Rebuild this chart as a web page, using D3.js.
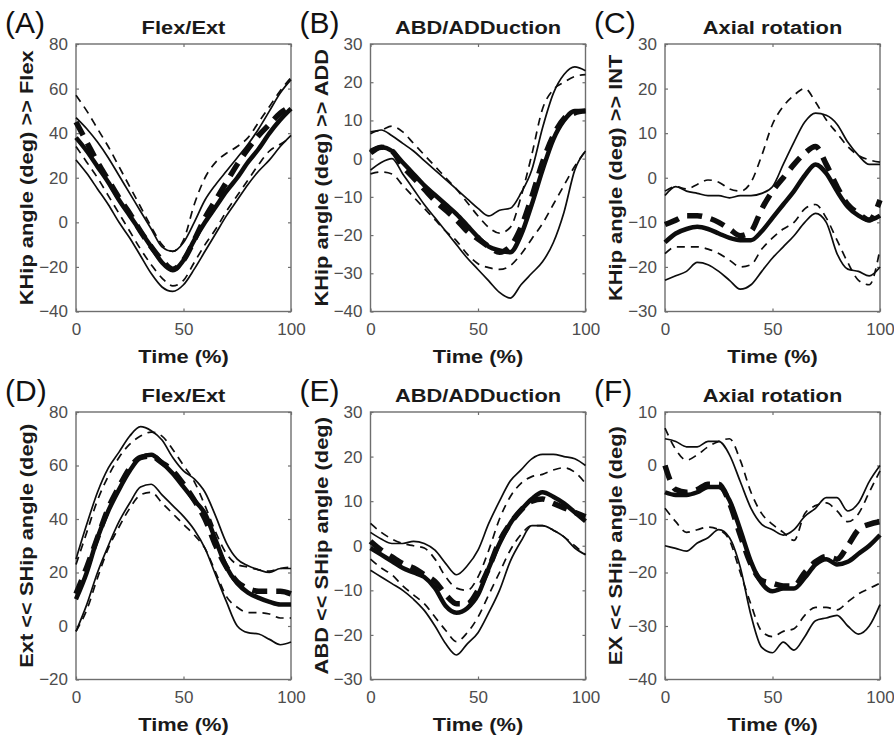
<!DOCTYPE html>
<html>
<head>
<meta charset="utf-8">
<script src="https://cdn.jsdelivr.net/npm/d3@7"></script>
<style>
  body { margin: 0; background: #fff; }
  svg { display: block; }
  text { font-family: "Liberation Sans", Arial, sans-serif; }
</style>
</head>
<body>
<div id="chart"></div>
<script>
// Time axis (% of cycle), sampled every 5 %
const time = [0, 5, 10, 15, 20, 25, 30, 35, 40, 45, 50, 55, 60, 65, 70, 75, 80, 85, 90, 95, 100];
const xTicks = [0, 50, 100];

// (A) KHip Flex/Ext
const aSolidMean  = [38, 32, 25, 18, 10, 3, -4, -11, -18, -21.5, -17, -8, 0, 7, 14, 20, 27, 33, 40, 46, 51];
const aSolidUpper = [47, 42, 36, 29, 21, 13, 5, -3, -11, -13, -9, 0, 10, 17, 23, 29, 35, 42, 50, 58, 64];
const aSolidLower = [28, 22, 15, 8, 0, -7, -15, -23, -29, -31, -28, -21, -13, -5, 3, 10, 17, 23, 28, 34, 39];
const aDashMean   = [45, 36, 27, 19, 11, 4, -4, -11, -17, -21, -17, -8, 2, 10, 18, 26, 33, 39, 44, 49, 52];
const aDashUpper  = [57, 50, 42, 34, 25, 16, 7, -2, -10, -13, -8, 8, 20, 27, 31, 34, 38, 45, 52, 59, 65];
const aDashLower  = [34, 27, 20, 12, 4, -4, -12, -19, -25, -28.5, -26, -18, -10, -3, 5, 12, 19, 26, 32, 35, 38];
const aYTicks = [-40, -20, 0, 20, 40, 60, 80];

// (B) KHip ABD/ADDuction
const bSolidMean  = [2, 3, 2, -1, -4, -7, -9.5, -12, -14.5, -17.5, -20.5, -23, -24, -24.5, -20, -12, -3, 5, 10, 12.5, 12.5];
const bSolidUpper = [6.5, 7.5, 6, 4, 2, -0.5, -3, -5.5, -8, -10.5, -13, -15, -13.5, -13, -9, -3, 8, 17, 22, 24, 23];
const bSolidLower = [-3, -1, 0, -4, -8, -12, -15.5, -19, -22.5, -26, -29, -32, -35, -36.5, -33, -30, -27, -22, -14, -3, 2];
const bDashMean   = [1.5, 3, 2, -2, -5, -8, -11, -13.5, -16, -19, -21, -23, -24.5, -23, -18, -10, -1, 6, 10.5, 12, 12.5];
const bDashUpper  = [7, 7.5, 8.5, 7, 4, 1, -2, -5, -8, -11.5, -15, -18, -19.5, -18, -10, 1, 13, 18, 20, 21.5, 22];
const bDashLower  = [-4, -3.5, -4, -7, -10, -13, -16, -19, -21.5, -25, -27.5, -28.5, -29, -28, -25, -21, -17, -12, -7, -2, 2];
const bYTicks = [-40, -30, -20, -10, 0, 10, 20, 30];

// (C) KHip Axial rotation
const cSolidMean  = [-14.5, -12.5, -11.5, -11, -11.5, -12.5, -13.5, -14, -14, -12, -9, -6, -3, 0.5, 3, 1, -3, -6.5, -8.5, -9.5, -8.5];
const cSolidUpper = [-4, -2, -3, -3.5, -4, -4, -4.5, -4, -4, -3.5, -2, 3, 8, 12.5, 14.5, 14, 12, 8, 5, 3, 3];
const cSolidLower = [-23, -22, -21, -19, -19.5, -21, -23, -25, -24, -21, -18, -15.5, -13, -10, -8, -10, -17, -20.5, -21, -22, -20];
const cDashMean   = [-10.5, -9.5, -8.5, -8.5, -9, -10, -11.5, -13, -12, -7, -3, 0, 3, 5.5, 7, 3, -2, -6, -8, -9.5, -5];
const cDashUpper  = [-3, -2, -2.5, -1.5, -0.5, -1, -2.5, -3, -1, 5, 12, 16, 18.5, 20, 17, 13, 10, 7, 5, 4, 3.5];
const cDashLower  = [-17, -15.5, -15.5, -15.5, -16, -17, -18.5, -20, -19.5, -16, -13.5, -11.5, -10, -7, -6, -9, -14, -19, -23, -24, -16];
const cYTicks = [-30, -20, -10, 0, 10, 20, 30];

// (D) SHip Flex/Ext
const dSolidMean  = [10, 20, 33, 43, 51, 58, 63, 64, 61, 57, 52, 47, 42, 32, 22, 16, 12.5, 10.5, 9, 8, 8];
const dSolidUpper = [25, 38, 50, 59, 65, 71, 74.5, 73, 69.5, 63, 58, 55, 50, 41, 31, 25, 22.5, 21, 20, 21.5, 21.5];
const dSolidLower = [-2, 8, 20, 30, 39, 46, 52, 53, 49, 45, 41, 36, 29, 19, 9, 0, -2.5, -3, -5, -7, -6];
const dDashMean   = [12, 22, 33, 44, 52, 59, 63, 63.5, 61, 58, 53, 47, 40, 30, 22, 16.5, 14, 13, 13, 13, 12];
const dDashUpper  = [23, 35, 47, 56, 63, 68, 71, 72.5, 71, 66, 60, 54, 45, 35, 27, 23, 22, 21, 20.5, 21.5, 22];
const dDashLower  = [-2, 6, 18, 29, 37, 44, 49, 50, 46, 42, 38, 34, 29, 20, 11, 7, 5, 5, 4.5, 3, 3];
const dYTicks = [-20, 0, 20, 40, 60, 80];

// (E) SHip ABD/ADDuction
const eSolidMean  = [-0.5, -2, -3.5, -5, -6, -7, -9.5, -13.5, -15, -14, -11, -5, 0.5, 5, 8, 10.5, 12, 11, 9.5, 7.5, 5.5];
const eSolidUpper = [3, 1.5, 0.5, 0.5, 1, 0.5, -1, -4, -6.5, -4.5, -1, 5, 10, 14.5, 17, 19.5, 20.5, 20.5, 20, 19.5, 18];
const eSolidLower = [-5.5, -7, -8.5, -10, -12, -14.5, -18, -22, -24.5, -22, -19.5, -15, -10, -3.5, 1, 4.5, 4.5, 3.5, 2, -0.5, -2];
const eDashMean   = [1, -1, -2.5, -4, -5, -6.5, -8, -11, -13, -13, -10, -5, 1, 5, 8, 10, 10.5, 9.5, 8.5, 7.5, 6.5];
const eDashUpper  = [5, 3, 1.5, 0.5, 0, -0.5, -3, -7, -9.5, -10, -7, -1, 6, 11, 14, 15.5, 16, 17, 17.5, 16.5, 14];
const eDashLower  = [-3, -5, -6.5, -9, -11, -13, -16, -19, -21.5, -19.5, -16, -11, -6, -1, 2.5, 4.5, 4.5, 3.5, 2, 0, -2];
const eYTicks = [-30, -20, -10, 0, 10, 20, 30];

// (F) SHip Axial rotation
const fSolidMean  = [-5, -5.5, -5.5, -5, -4, -4, -6.5, -12, -18, -22, -23.5, -23, -23, -21, -18.5, -17.5, -18.5, -18, -16.5, -15, -13];
const fSolidUpper = [5, 4.5, 3.5, 3.5, 4.5, 4.5, 2, -3, -8, -11, -12, -13, -12, -9.5, -8, -6, -6, -8.5, -7, -3, 0];
const fSolidLower = [-15, -15.5, -16, -14.5, -13.5, -12, -13.5, -19, -28, -34, -35, -33, -34.5, -32, -29, -28.5, -28, -30, -31.5, -30, -26];
const fDashMean   = [0, -4.5, -5, -4.5, -3.5, -3.5, -7, -13, -18.5, -21.5, -22, -22.5, -22.5, -20, -18, -17, -17.5, -15, -12, -11, -10.5];
const fDashUpper  = [7, 3, 1, 2, 3.5, 4.5, 5, 1, -5, -9, -11, -12.5, -14, -9, -7.5, -7, -8.5, -10.5, -9, -5, -1];
const fDashLower  = [-8, -10.5, -12.5, -12, -11.5, -12, -14, -20, -26, -31, -32, -31, -30.5, -28, -26.5, -26.5, -27, -25.5, -24, -23, -22];
const fYTicks = [-40, -30, -20, -10, 0, 10];

// Panel definitions built from the arrays above
const panels = [
  { tag: "(A)", title: "Flex/Ext", ylabel: "KHip angle (deg) >> Flex", yTicks: aYTicks,
    lines: [aSolidUpper, aSolidLower, aDashUpper, aDashLower, aSolidMean, aDashMean] },
  { tag: "(B)", title: "ABD/ADDuction", ylabel: "KHip angle (deg) >> ADD", yTicks: bYTicks,
    lines: [bSolidUpper, bSolidLower, bDashUpper, bDashLower, bSolidMean, bDashMean] },
  { tag: "(C)", title: "Axial rotation", ylabel: "KHip angle (deg) >> INT", yTicks: cYTicks,
    lines: [cSolidUpper, cSolidLower, cDashUpper, cDashLower, cSolidMean, cDashMean] },
  { tag: "(D)", title: "Flex/Ext", ylabel: "Ext << SHip angle (deg)", yTicks: dYTicks,
    lines: [dSolidUpper, dSolidLower, dDashUpper, dDashLower, dSolidMean, dDashMean] },
  { tag: "(E)", title: "ABD/ADDuction", ylabel: "ABD << SHip angle (deg)", yTicks: eYTicks,
    lines: [eSolidUpper, eSolidLower, eDashUpper, eDashLower, eSolidMean, eDashMean] },
  { tag: "(F)", title: "Axial rotation", ylabel: "EX << SHip angle (deg)", yTicks: fYTicks,
    lines: [fSolidUpper, fSolidLower, fDashUpper, fDashLower, fSolidMean, fDashMean] },
];

// Line styles, same order as panel.lines
const lineStyles = [
  { width: 1.7, dash: null },     // solid +SD
  { width: 1.7, dash: null },     // solid -SD
  { width: 1.7, dash: "8,6" },    // dashed +SD
  { width: 1.7, dash: "8,6" },    // dashed -SD
  { width: 4.5, dash: null },     // solid mean
  { width: 5.5, dash: "15,9" },   // dashed mean
];

// Layout
const width = 894;
const height = 736;
const colLeft = [76, 370.5, 665];
const rowTop = [44, 412];
const boxW = 215;
const boxH = 267.5;
const stretch = 1.15; // labels in the figure are horizontally wide
const axisGray = "#6e6e6e";
const tickGray = "#4d4d4d";

const svg = d3
  .select("#chart")
  .append("svg")
  .attr("width", width)
  .attr("height", height)
  .attr("viewBox", `0 0 ${width} ${height}`);

function boldLabel(parent, x, y, str, rotate) {
  parent
    .append("text")
    .attr("transform", `translate(${x},${y})${rotate ? " rotate(-90)" : ""} scale(${stretch},1)`)
    .attr("text-anchor", "middle")
    .attr("font-weight", "bold")
    .attr("font-size", 19)
    .attr("fill", "#1a1a1a")
    .text(str);
}

function drawPanel(panel, i) {
  const col = i % 3;
  const row = Math.floor(i / 3);
  const g = svg
    .append("g")
    .attr("transform", `translate(${colLeft[col]},${rowTop[row]})`);

  const yDomain = d3.extent(panel.yTicks);
  const x = d3.scaleLinear().domain([0, 100]).range([0, boxW]);
  const y = d3.scaleLinear().domain(yDomain).range([boxH, 0]);

  // Axes with inward ticks (MATLAB style)
  const bottom = g
    .append("g")
    .attr("transform", `translate(0,${boxH})`)
    .call(d3.axisBottom(x).tickValues(xTicks).tickSize(-3).tickPadding(11));
  const left = g
    .append("g")
    .call(d3.axisLeft(y).tickValues(panel.yTicks).tickSize(-3).tickPadding(8));
  g.append("g")
    .call(d3.axisTop(x).tickValues(xTicks).tickSize(-3).tickFormat(""));
  g.append("g")
    .attr("transform", `translate(${boxW},0)`)
    .call(d3.axisRight(y).tickValues(panel.yTicks).tickSize(-3).tickFormat(""));

  g.selectAll(".domain").remove();
  g.selectAll(".tick line").attr("stroke", axisGray).attr("stroke-width", 1.2);
  [bottom, left].forEach((a) =>
    a.selectAll("text")
      .attr("font-size", 17)
      .attr("fill", tickGray)
      .attr("font-family", "'Liberation Sans', Arial, sans-serif")
  );

  g.append("rect")
    .attr("width", boxW)
    .attr("height", boxH)
    .attr("fill", "none")
    .attr("stroke", axisGray)
    .attr("stroke-width", 1.4);

  // Curves
  const line = d3
    .line()
    .x((d, j) => x(time[j]))
    .y((d) => y(d))
    .curve(d3.curveMonotoneX);

  panel.lines.forEach((values, k) => {
    const style = lineStyles[k];
    g.append("path")
      .datum(values)
      .attr("d", line)
      .attr("fill", "none")
      .attr("stroke", "#0d0d0d")
      .attr("stroke-width", style.width)
      .attr("stroke-dasharray", style.dash)
      .attr("stroke-linejoin", "round");
  });

  // Texts
  boldLabel(g, boxW / 2, -10, panel.title, false);
  boldLabel(g, boxW / 2, boxH + 51, "Time (%)", false);
  boldLabel(g, -43, boxH / 2, panel.ylabel, true);

  g.append("text")
    .attr("x", -71)
    .attr("y", -11)
    .attr("font-family", "Lato, 'Noto Sans', sans-serif")
    .attr("font-size", 30)
    .attr("fill", "#111")
    .text(panel.tag);
}

panels.forEach(drawPanel);
</script>
</body>
</html>
